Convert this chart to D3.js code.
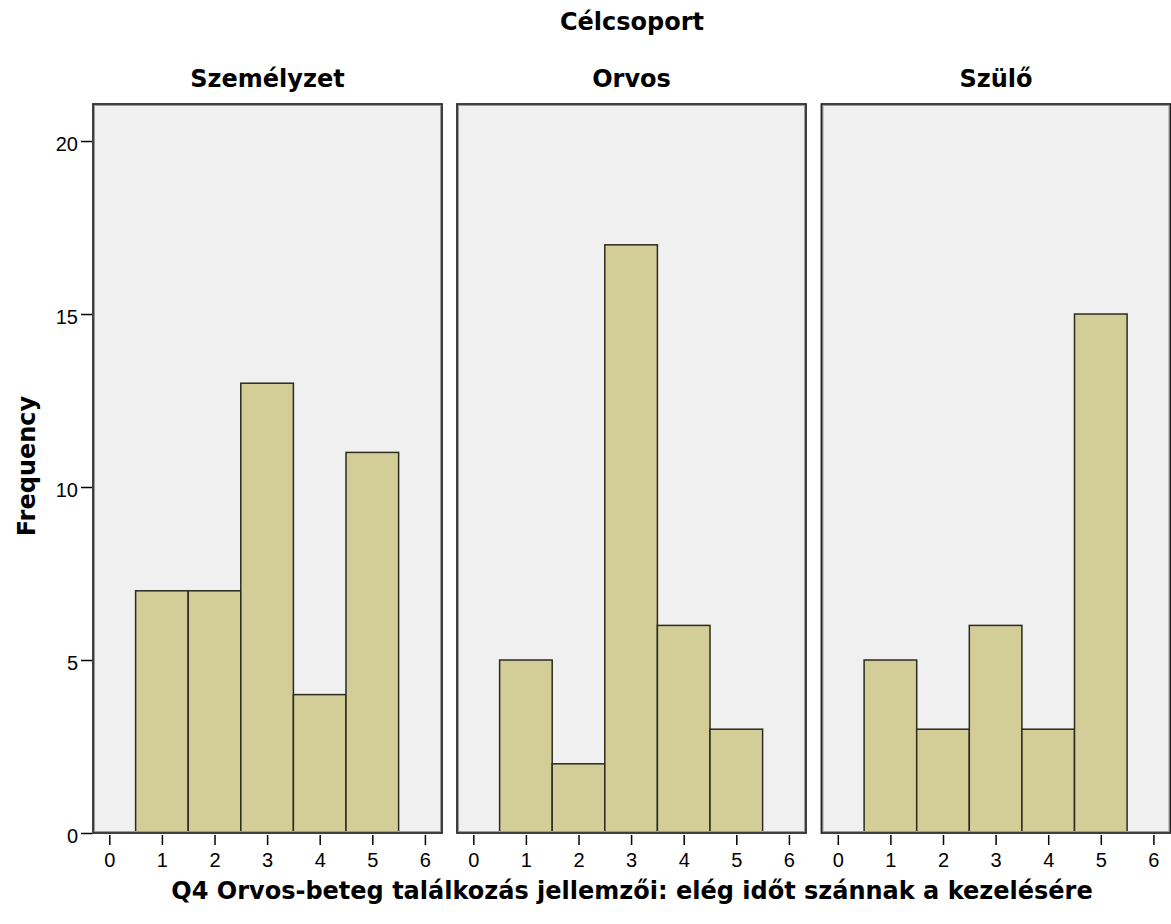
<!DOCTYPE html>
<html>
<head>
<meta charset="utf-8">
<script src="https://cdn.jsdelivr.net/npm/d3@7"></script>
<style>
  body { margin: 0; background: #fff; }
  text { font-family: "Liberation Sans", Arial, sans-serif; fill: #000; }
  .cim { font-family: "DejaVu Sans", Verdana, sans-serif; font-weight: bold; font-size: 24px; }
</style>
</head>
<body>
<div id="chart"></div>
<script>
// adatok
const csoportok = ["Személyzet", "Orvos", "Szülő"]
const ertekek = [1, 2, 3, 4, 5]
const szemelyzet = [7, 7, 13, 4, 11]
const orvos = [5, 2, 17, 6, 3]
const szulo = [5, 3, 6, 3, 15]
const yTicks = [0, 5, 10, 15, 20]
const xTicks = [0, 1, 2, 3, 4, 5, 6]

const sorok = [szemelyzet, orvos, szulo]

const W = 1171, H = 924
const felso = 104, also = 833
const panelW = 349
const panelX = [93, 457, 821.5]

const svg = d3.select("#chart").append("svg")
  .attr("width", W)
  .attr("height", H)

const y = d3.scaleLinear().domain([0, 21.07]).range([also, felso])
const x = d3.scaleLinear().domain([-0.31, 6.325]).range([0, panelW])

// cimek
svg.append("text")
  .attr("class", "cim")
  .attr("x", 632).attr("y", 30)
  .attr("text-anchor", "middle")
  .text("Célcsoport")

svg.append("text")
  .attr("class", "cim")
  .attr("transform", "translate(35,466) rotate(-90)")
  .attr("text-anchor", "middle")
  .text("Frequency")

svg.append("text")
  .attr("class", "cim")
  .attr("x", 632).attr("y", 899)
  .attr("text-anchor", "middle")
  .text("Q4 Orvos-beteg találkozás jellemzői: elég időt szánnak a kezelésére")

// y tengely
const yAxis = svg.append("g")
  .attr("transform", "translate(" + panelX[0] + ",0)")
  .call(d3.axisLeft(y).tickValues(yTicks).tickSize(12).tickPadding(3))
yAxis.select(".domain").remove()
yAxis.selectAll("line").attr("stroke", "#000").attr("stroke-width", 1.5)
yAxis.selectAll("text").style("font-size", "20px").attr("fill", "#000").attr("dy", "0.45em")

csoportok.forEach((nev, i) => {
  const g = svg.append("g").attr("transform", "translate(" + panelX[i] + ",0)")

  g.append("rect")
    .attr("x", 0).attr("y", felso)
    .attr("width", panelW).attr("height", also - felso)
    .attr("fill", "#f0f0f0")

  g.selectAll(".bar")
    .data(ertekek.map((v, j) => ({ v: v, n: sorok[i][j] })))
    .enter().append("rect")
    .attr("class", "bar")
    .attr("x", d => x(d.v - 0.5))
    .attr("y", d => y(d.n))
    .attr("width", d => x(d.v + 0.5) - x(d.v - 0.5))
    .attr("height", d => also - y(d.n))
    .attr("fill", "#d3ce97")
    .attr("stroke", "#2b2b20")
    .attr("stroke-width", 1.5)

  // keret
  g.append("rect")
    .attr("x", 0.5).attr("y", felso + 0.5)
    .attr("width", panelW - 1).attr("height", also - felso - 1)
    .attr("fill", "none")
    .attr("stroke", "#9a9a9a")
    .attr("stroke-width", 3)
  g.append("rect")
    .attr("x", 0).attr("y", felso)
    .attr("width", panelW).attr("height", also - felso)
    .attr("fill", "none")
    .attr("stroke", "#222")
    .attr("stroke-width", 1.5)

  const xAxis = g.append("g")
    .attr("transform", "translate(0," + (also + 2) + ")")
    .call(d3.axisBottom(x).tickValues(xTicks).tickSize(10).tickFormat(d3.format("d")))
  xAxis.select(".domain").remove()
  xAxis.selectAll("line").attr("stroke", "#000").attr("stroke-width", 1.5)
  xAxis.selectAll("text")
    .style("font-size", "20px").attr("fill", "#000")
    .attr("y", 867 - also - 2).attr("dy", 0)

  svg.append("text")
    .attr("class", "cim")
    .attr("x", panelX[i] + panelW / 2).attr("y", 87)
    .attr("text-anchor", "middle")
    .text(nev)
})
</script>
</body>
</html>
